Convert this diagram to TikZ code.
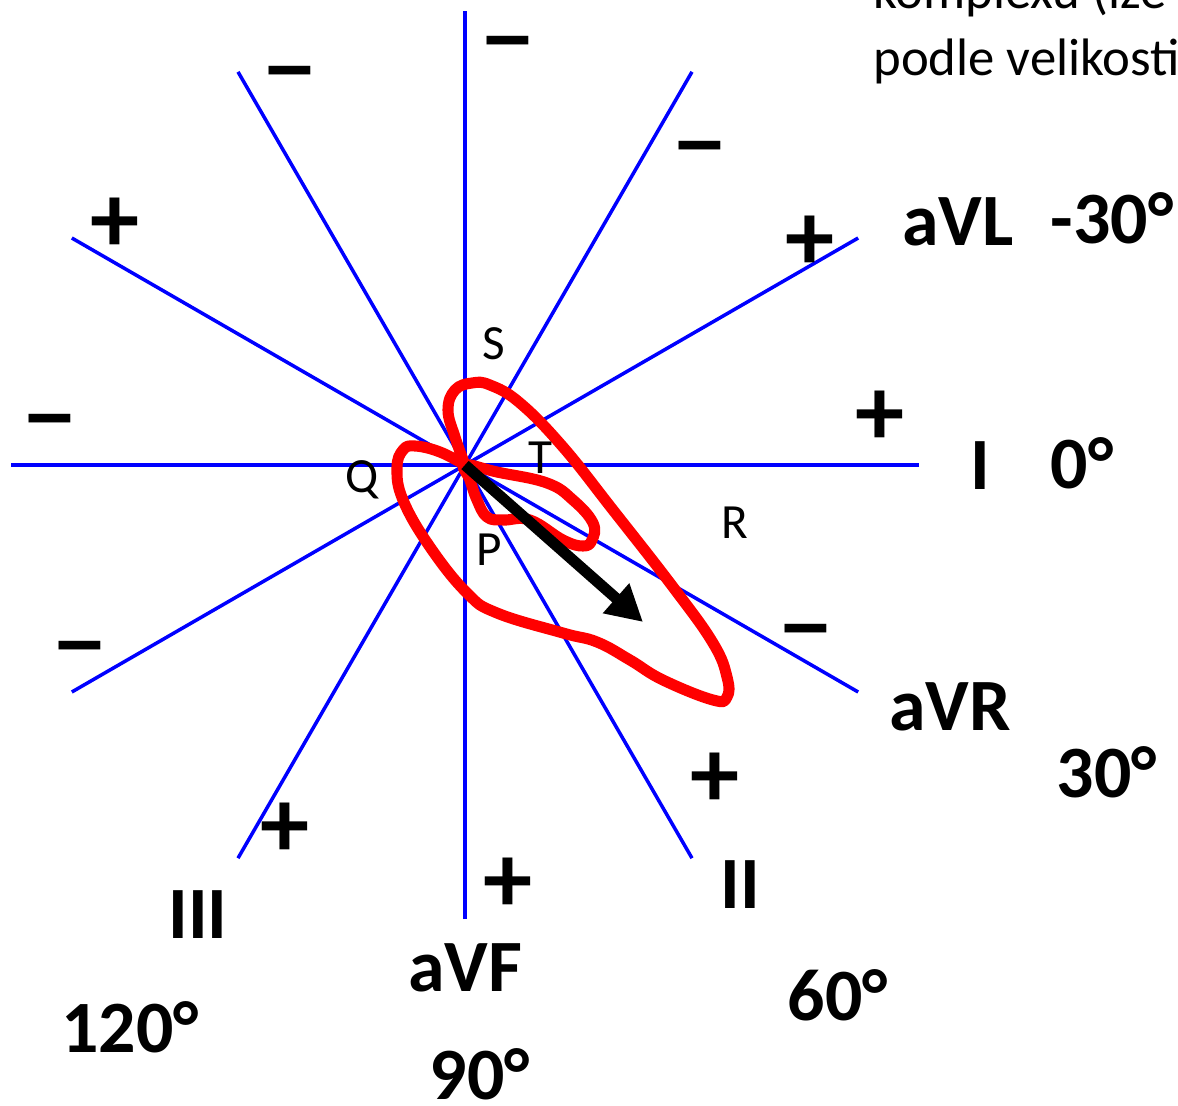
\documentclass[tikz,border=0pt]{standalone}
\usepackage{fontspec}
\setmainfont{Carlito}
\usetikzlibrary{arrows.meta}
\tikzstyle{axis} = [blue, line width=2pt]
\tikzstyle{sign} = [font=\fontsize{56}{56}\selectfont\bfseries, inner sep=0pt]
\tikzstyle{lead} = [font=\fontsize{42}{42}\selectfont\bfseries, inner sep=0pt]
\tikzstyle{wave} = [font=\fontsize{28}{28}\selectfont, inner sep=0pt]
\tikzstyle{note} = [font=\fontsize{30}{30}\selectfont, inner sep=0pt, anchor=base west]
\tikzstyle{loop} = [red, line width=6.3pt, line join=round, line cap=round]
\tikzstyle{arrow} = [line width=6.3pt, -{Triangle[length=0.72cm, width=0.75cm]}]
\newcommand{\minussign}{\scalebox{1.2}[1]{–}}

\begin{document}
\begin{tikzpicture}[x=0.02cm, y=-0.02cm]

\useasboundingbox (0,0) rectangle (1178,1106);

% Axes
\coordinate (O) at (465,465);
\foreach \a in {0,30,...,330}
  \coordinate (end\a) at ([shift={(\a:454)}]O);
\foreach \a/\b in {0/180,30/210,60/240,90/270,120/300,150/330}
  \draw [axis] (end\a) -- (end\b);

% Loops
\draw [loop] plot [smooth, tension=0.7] coordinates {(465,465) (455,437) (448,410) (455,390) (472,383) (490,385) (520,403) (563,447) (613,510) (673,587) (713,643) (727,677) (727,697) (713,700) (663,680) (630,660) (597,642) (563,633) (497,613) (467,593) (430,547) (403,500) (397,468) (403,450) (415,446) (440,452) (465,465)};
\draw [loop] plot [smooth cycle, tension=0.7] coordinates {(465,465) (497,472) (547,483) (573,500) (593,523) (592,540) (583,546) (563,540) (530,520) (503,520) (487,517) (477,500) (470,480)};

% Vector
\coordinate (tip) at (643,622);
\draw [arrow] (O) -- (tip);

% Signs
\node (m90)  [sign] at (508,52)  {\minussign};
\node (m120) [sign] at (290,82)  {\minussign};
\node (m60)  [sign] at (700,157) {\minussign};
\node (m180) [sign] at (50,430)  {\minussign};
\node (m210) [sign] at (80,657)  {\minussign};
\node (m30)  [sign] at (806,640) {\minussign};
\node (p150) [sign] at (115,225) {+};
\node (p330) [sign] at (810,243) {+};
\node (p0)   [sign] at (880,418) {+};
\node (p60)  [sign] at (715,780) {+};
\node (p120) [sign] at (285,830) {+};
\node (p90)  [sign] at (508,885) {+};

% Leads
\node (aVL) [lead] at (958,222)  {aVL};
\node (lI)  [lead] at (980,466)  {I};
\node (aVR) [lead] at (950,707)  {aVR};
\node (lII) [lead] at (740,885)  {II};
\node (lIII)[lead] at (198,915)  {III};
\node (aVF) [lead] at (465,968)  {aVF};
\node (dm30)[lead] at (1112,218) {-30°};
\node (d0)  [lead] at (1082,463) {0°};
\node (d30) [lead] at (1107,772) {30°};
\node (d60) [lead] at (838,995)  {60°};
\node (d120)[lead] at (130,1027) {120°};
\node (d90) [lead] at (480,1074) {90°};

% Waves
\node (S) [wave] at (494,344) {S};
\node (Q) [wave] at (362,480) {Q};
\node (T) [wave] at (540,458) {T};
\node (P) [wave] at (489,550) {P};
\node (R) [wave] at (735,523) {R};

% Note
\node (note1) [note] at (873,8)  {komplexu (lze};
\node (note2) [note] at (873,75) {podle velikosti};

\end{tikzpicture}
\end{document}
